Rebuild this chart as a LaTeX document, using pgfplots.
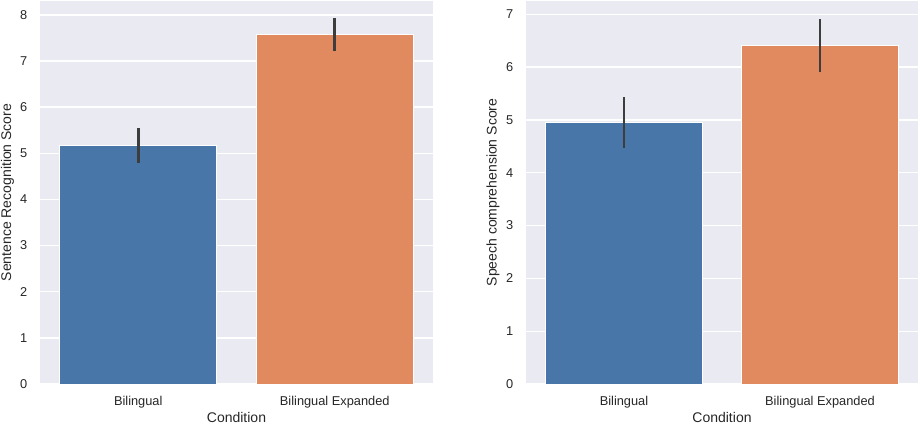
\documentclass[border=0pt]{standalone}
\usepackage{pgfplots}
\pgfplotsset{compat=1.18}
\usepackage{fontspec}
\setmainfont{Liberation Sans}
\definecolor{bgc}{HTML}{EAEAF2}
\definecolor{sbblue}{HTML}{4876A8}
\definecolor{sborange}{HTML}{E1895F}
\definecolor{txt}{HTML}{262626}
\definecolor{errc}{HTML}{3D3D3D}
\pgfplotsset{
  sbstyle/.style={
    scale only axis,
    width=294.75pt, height=287.25pt,
    anchor=south west,
    xmin=-0.5, xmax=1.5, ymin=0,
    xtick={0,1}, xticklabels={Bilingual, Bilingual Expanded},
    axis background/.style={fill=bgc},
    axis line style={draw=none},
    tick style={draw=none},
    ymajorgrids, major grid style={white, line width=1pt},
    /pgf/number format/assume math mode=true,
    ticklabel style={font=\fontsize{9.6}{11}\selectfont, text=txt},
    yticklabel style={xshift=-6pt},
    xticklabel style={yshift=-6pt},
    label style={font=\fontsize{10.5}{12}\selectfont, text=txt},
    xlabel style={at={(axis description cs:0.5,0)}, anchor=north, yshift=-18pt},
    xlabel={Condition},
  },
  sbbar/.style={ybar, bar width=0.8, bar shift=0pt, draw=white, line width=0.6pt, fill=#1,
    error bars/y dir=both, error bars/y explicit, error bars/error mark=none,
    error bars/error bar style={line width=2.1pt, color=errc}},
}
\begin{document}
\begin{tikzpicture}
\useasboundingbox (0,0) rectangle (690pt,318.75pt);
\begin{axis}[sbstyle, at={(30pt,30.75pt)}, ymax=8.3, ytick={0,1,...,8},
  ylabel={Sentence Recognition Score},
  ylabel style={at={(axis description cs:-0.083,0.5)}, anchor=center}]
\addplot[sbbar=sbblue] coordinates {(0,5.17) +- (0,0.38)};
\addplot[sbbar=sborange] coordinates {(1,7.57) +- (0,0.36)};
\end{axis}
\begin{axis}[sbstyle, at={(394.5pt,30.75pt)}, width=294pt, ymax=7.25, ytick={0,1,...,7},
  ylabel={Speech comprehension Score},
  ylabel style={at={(axis description cs:-0.084,0.5)}, anchor=center}]
\addplot[sbbar=sbblue] coordinates {(0,4.95) +- (0,0.48)};
\addplot[sbbar=sborange] coordinates {(1,6.40) +- (0,0.50)};
\end{axis}
\end{tikzpicture}
\end{document}
